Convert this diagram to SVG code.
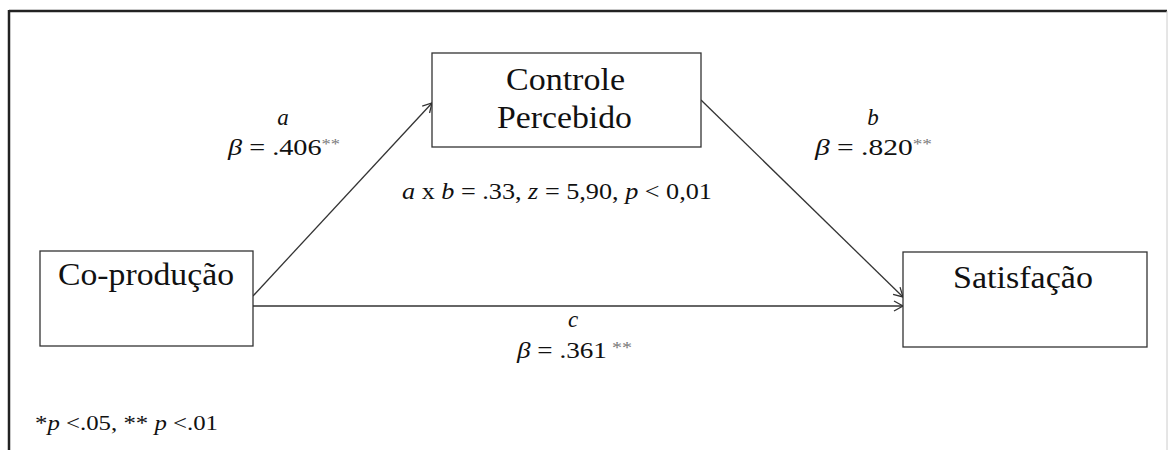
<svg xmlns="http://www.w3.org/2000/svg" width="1168" height="450" viewBox="0 0 1168 450">
<style>
.box{fill:#fff;stroke:#333;stroke-width:1.3}
.t{font-family:"Liberation Serif","Times New Roman",serif;fill:#111}
.node{font-size:31px}
.lbl{font-size:23px}
.it{font-style:italic}
.conn{stroke:#333;stroke-width:1.3;fill:none}
</style>
<defs>
<marker id="arr" markerWidth="12" markerHeight="12" refX="10" refY="6" orient="auto" markerUnits="userSpaceOnUse">
<path d="M1,1 L10,6 L1,11" fill="none" stroke="#333" stroke-width="1.3"/>
</marker>
</defs>
<rect x="0" y="0" width="1168" height="450" fill="#fff"/>
<g id="frame">
<line x1="9" y1="11" x2="1167" y2="11" stroke="#222" stroke-width="2.5"/>
<line x1="9" y1="10" x2="9" y2="450" stroke="#222" stroke-width="2.5"/>
<line x1="1167" y1="11" x2="1167" y2="450" stroke="#ccc" stroke-width="1"/>
</g>
<g id="connectors">
<line class="conn" x1="253" y1="296" x2="432" y2="103" marker-end="url(#arr)"/>
<line class="conn" x1="701" y1="100" x2="903" y2="297" marker-end="url(#arr)"/>
<line class="conn" x1="253" y1="306" x2="903" y2="306" marker-end="url(#arr)"/>
</g>
<g id="coproducao">
<rect class="box" x="40" y="251" width="213" height="95"/>
<text class="t node" x="58" y="285" textLength="176" lengthAdjust="spacingAndGlyphs">Co-produção</text>
</g>
<g id="controle">
<rect class="box" x="432" y="53" width="269" height="94"/>
<text class="t node" x="506" y="90" textLength="119" lengthAdjust="spacingAndGlyphs">Controle</text>
<text class="t node" x="497" y="128" textLength="135" lengthAdjust="spacingAndGlyphs">Percebido</text>
</g>
<g id="satisfacao">
<rect class="box" x="903" y="252" width="244" height="95"/>
<text class="t node" x="953" y="288" textLength="140" lengthAdjust="spacingAndGlyphs">Satisfação</text>
</g>
<g id="labels">
<text class="t lbl it" x="283" y="125" text-anchor="middle">a</text>
<text class="t lbl" x="228" y="155" textLength="112" lengthAdjust="spacingAndGlyphs"><tspan class="it">β</tspan> = .406<tspan font-size="15" dy="-6" fill="#777">**</tspan></text>
<text class="t lbl it" x="873" y="125" text-anchor="middle">b</text>
<text class="t lbl" x="815" y="155" textLength="117" lengthAdjust="spacingAndGlyphs"><tspan class="it">β</tspan> = .820<tspan font-size="15" dy="-6" fill="#777">**</tspan></text>
<text class="t lbl" x="402" y="199" textLength="310" lengthAdjust="spacingAndGlyphs"><tspan class="it">a</tspan> x <tspan class="it">b</tspan> = .33, <tspan class="it">z</tspan> = 5,90, <tspan class="it">p</tspan> &lt; 0,01</text>
<text class="t lbl it" x="573" y="327" text-anchor="middle">c</text>
<text class="t lbl" x="517" y="358" textLength="115" lengthAdjust="spacingAndGlyphs"><tspan class="it">β</tspan> = .361<tspan font-size="17" dy="-5" fill="#777"> **</tspan></text>
<text class="t" font-size="21" x="35" y="430" textLength="183" lengthAdjust="spacingAndGlyphs">*<tspan class="it">p</tspan> &lt;.05, ** <tspan class="it">p</tspan> &lt;.01</text>
</g>
</svg>
